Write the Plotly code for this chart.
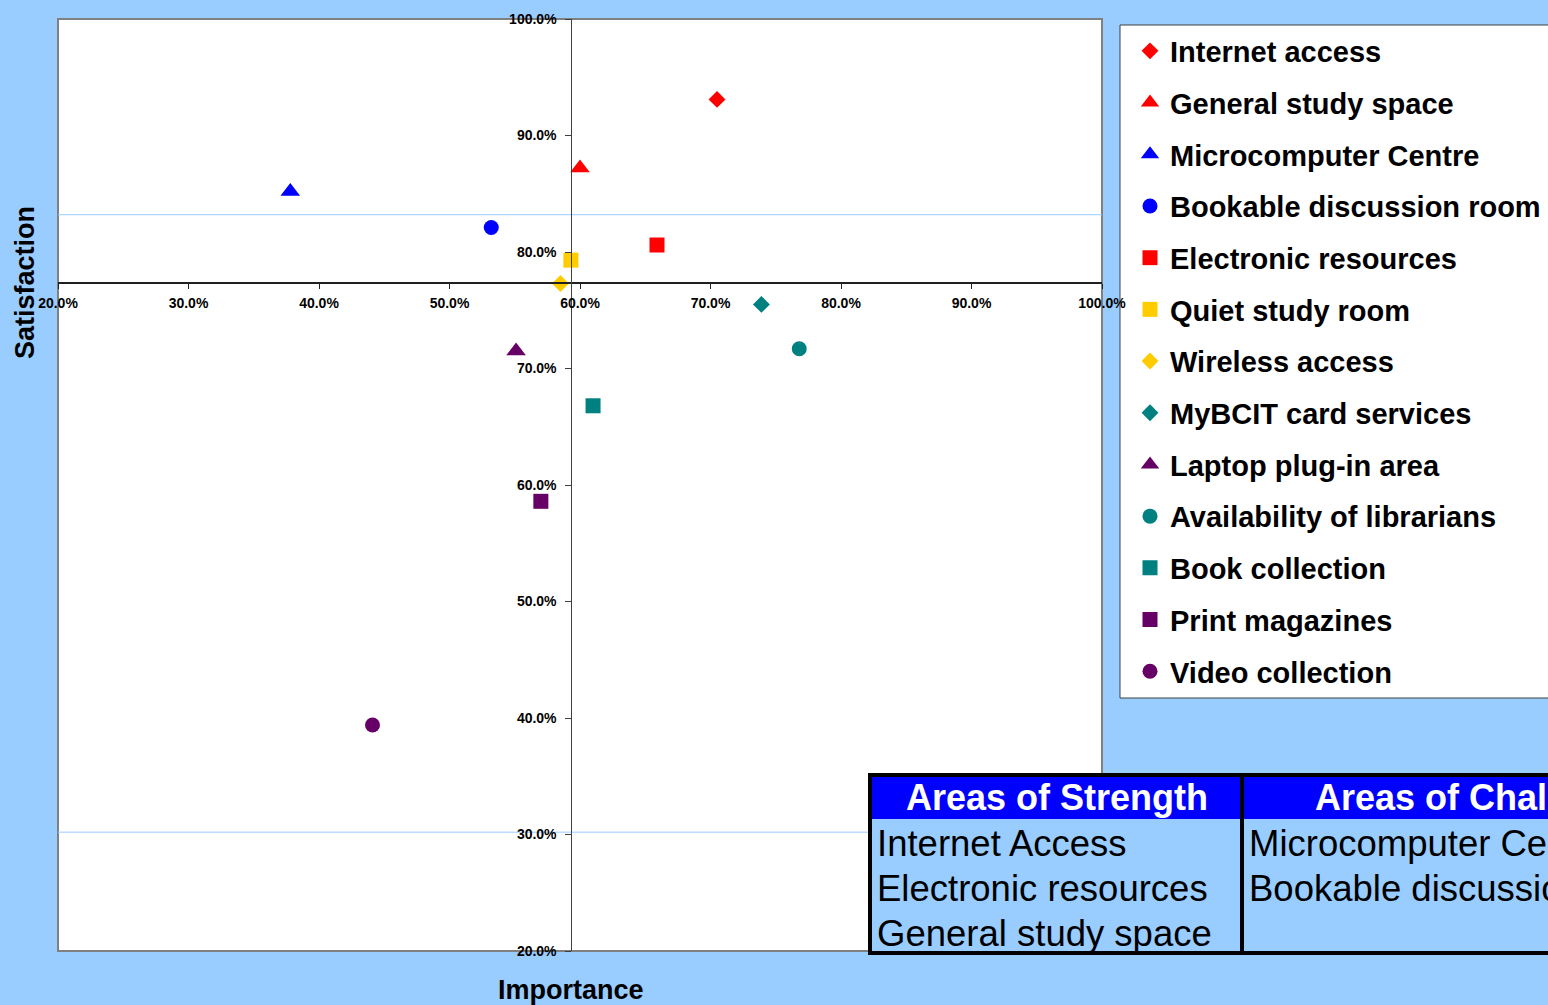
import plotly.graph_objects as go

# Library service survey: importance vs satisfaction for each service
services = [
    "Internet access", "General study space", "Microcomputer Centre",
    "Bookable discussion room", "Electronic resources", "Quiet study room",
    "Wireless access", "MyBCIT card services", "Laptop plug-in area",
    "Availability of librarians", "Book collection", "Print magazines",
    "Video collection",
]
importance = [70.5, 60.0, 37.8, 53.2, 65.9, 59.3, 58.5, 73.9, 55.1, 76.8, 61.0, 57.0, 44.1]
satisfaction = [93.1, 87.2, 85.2, 82.1, 80.6, 79.3, 77.3, 75.5, 71.5, 71.7, 66.8, 58.6, 39.4]
colors = ["#FF0000", "#FF0000", "#0000FF", "#0000FF", "#FF0000", "#FFCC00",
          "#FFCC00", "#008080", "#660066", "#008080", "#008080", "#660066", "#660066"]
symbols = ["diamond", "triangle-up", "triangle-up", "circle", "square", "square",
           "diamond", "diamond", "triangle-up", "circle", "square", "square", "circle"]

# Where the quadrant axes cross (average importance / satisfaction)
cross_importance = 59.34
cross_satisfaction = 77.34
# Reference lines
ref_lines = [83.2, 30.2]

strength = ["Internet Access", "Electronic resources", "General study space"]
challenge = ["Microcomputer Centre", "Bookable discussion room"]

W, H = 1548, 1005
ML, MR, MT, MB = 58, 446, 19, 54
PW, PH = W - ML - MR, H - MT - MB
AX_MIN, AX_MAX = 20, 100
FONT = "Arial, Liberation Sans, sans-serif"
BG = "#99CCFF"


def px(x):
    return (x - ML) / PW


def py(y):
    return (H - MB - y) / PH


size_for = {"diamond": 13, "triangle-up": 17, "square": 15, "circle": 15}

fig = go.Figure()
for i, name in enumerate(services):
    fig.add_trace(go.Scatter(
        x=[importance[i]], y=[satisfaction[i]], mode="markers", name=name,
        legendgroup=name,
        marker=dict(color=colors[i], symbol=symbols[i], size=size_for[symbols[i]],
                    line=dict(width=0)),
    ))

shapes = []
# plot frame
shapes.append(dict(type="rect", xref="paper", yref="paper", x0=0, x1=1, y0=0, y1=1,
                   line=dict(color="#808080", width=2), layer="below"))
for v in ref_lines:
    shapes.append(dict(type="line", xref="paper", yref="y", x0=0, x1=1, y0=v, y1=v,
                       line=dict(color=BG, width=1), layer="below"))
# legend box
shapes.append(dict(type="rect", xref="paper", yref="paper",
                   x0=px(1120), x1=px(1620), y0=py(698), y1=py(25),
                   fillcolor="white", line=dict(color="#404040", width=1), layer="below"))
# summary table
shapes.append(dict(type="rect", xref="paper", yref="paper",
                   x0=px(868), x1=px(1720), y0=py(955), y1=py(773),
                   fillcolor=BG, line=dict(width=0), layer="above"))
shapes.append(dict(type="rect", xref="paper", yref="paper",
                   x0=px(868), x1=px(1720), y0=py(819), y1=py(773),
                   fillcolor="#0000FF", line=dict(width=0), layer="above"))
shapes.append(dict(type="rect", xref="paper", yref="paper",
                   x0=px(870), x1=px(1720), y0=py(953), y1=py(775),
                   fillcolor="rgba(0,0,0,0)", line=dict(color="black", width=4), layer="above"))
shapes.append(dict(type="line", xref="paper", yref="paper",
                   x0=px(1242), x1=px(1242), y0=py(955), y1=py(773),
                   line=dict(color="black", width=4), layer="above"))

annotations = [
    dict(text="<b>Satisfaction</b>", xref="paper", yref="y", x=px(25), y=cross_satisfaction,
         textangle=-90, showarrow=False, font=dict(family=FONT, size=27, color="black"),
         xanchor="center", yanchor="middle"),
    dict(text="<b>Importance</b>", xref="x", yref="paper", x=cross_importance, y=py(990),
         showarrow=False, font=dict(family=FONT, size=27, color="black"),
         xanchor="center", yanchor="middle"),
    dict(text="<b>Areas of Strength</b>", xref="paper", yref="paper", x=px(1057), y=py(797),
         showarrow=False, font=dict(family=FONT, size=36, color="white"),
         xanchor="center", yanchor="middle"),
    dict(text="<b>Areas of Challenge</b>", xref="paper", yref="paper", x=px(1313), y=py(797),
         showarrow=False, font=dict(family=FONT, size=36, color="white"),
         xanchor="left", yanchor="middle"),
]
row_y = [843, 888, 933]
for i, t in enumerate(strength):
    annotations.append(dict(text=t, xref="paper", yref="paper", x=px(875), y=py(row_y[i]),
                            showarrow=False, font=dict(family=FONT, size=36.5, color="black"),
                            xanchor="left", yanchor="middle"))
for i, t in enumerate(challenge):
    annotations.append(dict(text=t, xref="paper", yref="paper", x=px(1247), y=py(row_y[i]),
                            showarrow=False, font=dict(family=FONT, size=36.5, color="black"),
                            xanchor="left", yanchor="middle"))

tickfont = dict(family=FONT, size=14, color="black", weight="bold")
fig.update_layout(
    width=W, height=H,
    margin=dict(l=ML, r=MR, t=MT, b=MB, pad=0, autoexpand=False),
    paper_bgcolor=BG, plot_bgcolor="white",
    showlegend=True,
    legend=dict(x=px(1130), y=py(25.5), xanchor="left", yanchor="top",
                bgcolor="rgba(0,0,0,0)", borderwidth=0,
                font=dict(family=FONT, size=29, color="black", weight="bold"),
                traceorder="grouped", tracegroupgap=11, itemsizing="trace"),
    xaxis=dict(range=[AX_MIN, AX_MAX], dtick=10, tick0=20, tickformat=".1f", ticksuffix="%",
               anchor="free", position=(cross_satisfaction - AX_MIN) / (AX_MAX - AX_MIN),
               showline=True, linecolor="#202020", linewidth=1.5,
               ticks="outside", ticklen=5, tickcolor="#202020", ticklabelstandoff=2,
               showgrid=False, zeroline=False, tickfont=tickfont),
    yaxis=dict(range=[AX_MIN, AX_MAX], dtick=10, tick0=20, tickformat=".1f", ticksuffix="%",
               anchor="free", position=(cross_importance - AX_MIN) / (AX_MAX - AX_MIN),
               showline=True, linecolor="#404040", linewidth=1,
               ticks="outside", ticklen=6, tickcolor="#404040", ticklabelstandoff=6,
               showgrid=False, zeroline=False, tickfont=tickfont),
    shapes=shapes,
    annotations=annotations,
)

fig.write_html("out.html")
